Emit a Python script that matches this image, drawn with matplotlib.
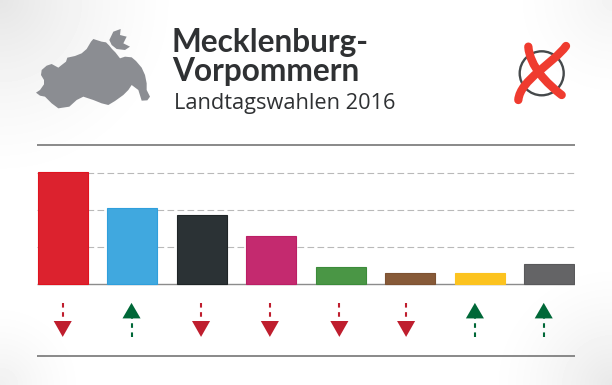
import numpy as np
import matplotlib
matplotlib.use("Agg")
import matplotlib.pyplot as plt
from matplotlib.patches import Polygon, Circle, PathPatch
from matplotlib.path import Path

# ---- data ----
parties = ["SPD", "AfD", "CDU", "Linke", "Grüne", "NPD", "FDP", "Andere"]
values = [30.3, 20.5, 18.7, 13.0, 4.6, 2.9, 2.9, 5.4]
colors = ["#dc222e", "#40a8df", "#2b3235", "#c42a6f", "#4a9645", "#875a38", "#fcc31f", "#646466"]
edges = ["#e0131f", "#2f9fdc", "#1f2527", "#bb1f65", "#3c8b3a", "#7d5233", "#fcc31f", "#59595b"]
trend = [-1, 1, -1, -1, -1, -1, 1, 1]
trend_pos = [0.0, 0.99, 1.99, 2.98, 3.98, 4.94, 5.93, 6.92]
grid_values = [10, 20, 30]
title_lines = ["Mecklenburg-", "Vorpommern"]
subtitle = "Landtagswahlen 2016"

W, H = 612, 385
fig = plt.figure(figsize=(W / 100, H / 100), dpi=100)

# background + decoration axes in pixel units
bg = fig.add_axes([0, 0, 1, 1])
bg.set_xlim(0, W); bg.set_ylim(H, 0); bg.axis("off")
yy, xx = np.mgrid[0:H, 0:W]
def corner(cx, cy, r, a):
    d = np.hypot(xx - cx, yy - cy) / r
    return a * np.clip(1 - d, 0, 1) ** 1.5
shade = corner(0, 0, 190, 0.10) + corner(W, H, 130, 0.09) + corner(0, H, 90, 0.06) + corner(W, 0, 110, 0.05)
bg.imshow(1 - shade, cmap="gray", vmin=0, vmax=1, extent=(0, W, H, 0), aspect="auto", zorder=0)

main = [(18,203),(30,195),(42,178),(42,165),(33,150),(35,135),(50,122),(65,117),(85,128),(95,120),
        (108,110),(112,98),(135,93),(155,85),(170,72),(183,50),(190,42),(215,50),(228,52),(238,62),
        (246,72),(256,82),(270,100),(285,95),(305,97),(318,108),(335,128),(345,150),(350,175),(350,195),
        (360,215),(352,226),(335,227),(325,195),(305,180),(295,195),(280,210),(255,228),(235,240),(215,235),
        (190,225),(160,215),(140,225),(118,245),(85,250),(65,235),(45,215),(30,212)]
island = [(238,45),(250,20),(272,12),(270,30),(290,35),(280,55),(300,65),(285,75),(260,72),(245,60)]
for pts in (main, island):
    bg.add_patch(Polygon(np.array(pts) / 3 + np.array([30, 25]), closed=True, fc="#8b8d92", ec="none", zorder=2))

# ballot circle and cross
bg.add_patch(Circle((541.7, 73.3), 22, fc="none", ec="#45494b", lw=1.7, zorder=2))
def stroke(pts):
    pts = np.array(pts) / 3 + np.array([440, 20])
    codes = [Path.MOVETO] + [Path.CURVE4] * (len(pts) - 1)
    bg.add_patch(PathPatch(Path(pts, codes), fc="none", ec="#ef3b2f", lw=6.0, capstyle="round", zorder=3))
stroke([(265,80),(270,140),(320,190),(365,225)])
stroke([(378,78),(340,130),(240,180),(235,240)])

# text
bg.text(172, 52, title_lines[0], fontsize=22.8, fontweight="bold", family=["Lato", "DejaVu Sans"], color="#2f3133", va="baseline", zorder=4)
bg.text(172, 81, title_lines[1], fontsize=22.8, fontweight="bold", family=["Lato", "DejaVu Sans"], color="#2f3133", va="baseline", zorder=4)
bg.text(173.5, 108.5, subtitle, fontsize=15.7, family=["Open Sans", "DejaVu Sans"], color="#2f3133", va="baseline", zorder=4)

# chart axes: pixel box x 37..575, y 145..356; 10 units = 37 px, baseline y=284
ax = fig.add_axes([37 / W, 1 - 356 / H, (575 - 37) / W, (356 - 145) / H], zorder=2)
ax.patch.set_alpha(0)
ax.axis("off")
ax.set_xlim(-0.37, 7.37)
ax.set_ylim(-(356 - 284) / 3.7, (284 - 145) / 3.7)
x = np.arange(len(values))
ax.hlines(grid_values, -0.37, 7.37, colors="#b9b9b9", lw=0.8, linestyles=(0, (6, 3)), zorder=1)
ax.bar(x, values, width=0.725, color=colors, edgecolor=edges, lw=0.8, zorder=2)
ax.hlines(0, -0.37, 7.37, colors="#8c8c8c", lw=1.0, zorder=1.5)
ax.hlines(ax.get_ylim(), -0.37, 7.37, colors="#6a6a6a", lw=1.1, clip_on=False)

# trend arrows
down_c, up_c = "#bf1e2e", "#006838"
for px, t in zip(trend_pos, trend):
    c = up_c if t > 0 else down_c
    if t > 0:
        ax.plot([px, px], [-14.4, -9.3], color=c, lw=1.5, ls=(0, (2.2, 2.2)), zorder=3)
        ax.fill([px - 0.13, px + 0.13, px], [-9.3, -9.3, -5.1], color=c, lw=0, zorder=4)
    else:
        ax.plot([px, px], [-5.1, -10.0], color=c, lw=1.5, ls=(0, (2.2, 2.2)), zorder=3)
        ax.fill([px - 0.13, px + 0.13, px], [-10.0, -10.0, -14.3], color=c, lw=0, zorder=4)

fig.savefig("out.png", dpi=100)
